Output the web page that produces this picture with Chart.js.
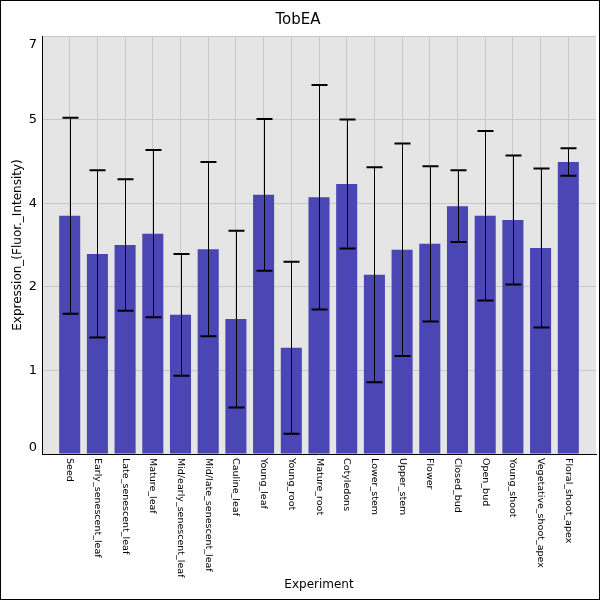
<!DOCTYPE html>
<html>
<head>
<meta charset="utf-8">
<title>TobEA</title>
<script src="https://cdn.jsdelivr.net/npm/chart.js@4.4.1/dist/chart.umd.min.js"></script>
<style>
  html, body { margin: 0; padding: 0; background: #fff; }
  #wrap { width: 600px; height: 600px; position: relative; }
</style>
</head>
<body>
<div id="wrap"><canvas id="chart"></canvas></div>
<script>
const categories = [
    'Seed', 'Early_senescent_leaf', 'Late_senescent_leaf', 'Mature_leaf',
    'Mid/early_senescent_leaf', 'Mid/late_senescent_leaf', 'Cauline_leaf',
    'Young_leaf', 'Young_root', 'Mature_root', 'Cotyledons', 'Lower_stem',
    'Upper_stem', 'Flower', 'Closed_bud', 'Open_bud', 'Young_shoot',
    'Vegetative_shoot_apex', 'Floral_shoot_apex'
];
const expression = [3.99, 3.35, 3.50, 3.69, 2.33, 3.43, 2.26, 4.34, 1.78, 4.30,
                    4.52, 3.00, 3.42, 3.52, 4.15, 3.99, 3.92, 3.45, 4.89];
const stdDev = [1.64, 1.40, 1.10, 1.40, 1.02, 1.46, 1.48, 1.27, 1.44, 1.88,
                1.08, 1.80, 1.78, 1.30, 0.60, 1.42, 1.08, 1.33, 0.23];
const yTickValues = [0, 1.4, 2.8, 4.2, 5.6, 7];
const yTickLabels = ['0', '1', '2', '4', '5', '7'];

const FONT = "'DejaVu Sans', sans-serif";

// grey plot area + outer frame
const frame = {
    id: 'frame',
    beforeDraw(chart) {
        const { ctx, chartArea: a } = chart;
        ctx.save();
        ctx.fillStyle = '#e5e5e5';
        ctx.fillRect(a.left, a.top, a.right - a.left, a.bottom - a.top);
        ctx.restore();
    },
    afterDraw(chart) {
        const { ctx, width, height } = chart;
        ctx.save();
        ctx.strokeStyle = '#000';
        ctx.lineWidth = 1;
        ctx.strokeRect(0.5, 0.5, width - 1, height - 1);
        ctx.restore();
    }
};

// error bars drawn over the bars
const errorBars = {
    id: 'errorBars',
    afterDatasetsDraw(chart) {
        const { ctx, scales: { x, y } } = chart;
        ctx.save();
        ctx.strokeStyle = '#000';
        expression.forEach((v, i) => {
            const px = Math.round(x.getPixelForValue(i)) + 0.5;
            const top = y.getPixelForValue(v + stdDev[i]);
            const bottom = y.getPixelForValue(v - stdDev[i]);
            ctx.lineWidth = 1;
            ctx.beginPath();
            ctx.moveTo(px, top);
            ctx.lineTo(px, bottom);
            ctx.stroke();
            ctx.lineWidth = 2;
            ctx.beginPath();
            ctx.moveTo(px - 8, top);
            ctx.lineTo(px + 8, top);
            ctx.moveTo(px - 8, bottom);
            ctx.lineTo(px + 8, bottom);
            ctx.stroke();
        });
        ctx.restore();
    }
};

// tick labels: x rotated clockwise, y clamped inside the plot
const tickText = {
    id: 'tickText',
    afterDraw(chart) {
        const { ctx, chartArea: a, scales: { x, y } } = chart;
        ctx.save();
        ctx.fillStyle = '#000';
        ctx.font = '9.5px ' + FONT;
        ctx.textAlign = 'left';
        ctx.textBaseline = 'middle';
        categories.forEach((name, i) => {
            ctx.save();
            ctx.translate(x.getPixelForValue(i), a.bottom + 4);
            ctx.rotate(Math.PI / 2);
            ctx.fillText(name, 0, 0);
            ctx.restore();
        });
        ctx.font = '13px ' + FONT;
        ctx.textAlign = 'right';
        yTickValues.forEach((v, i) => {
            let py = y.getPixelForValue(v);
            py = Math.min(Math.max(py, a.top + 9), a.bottom - 6);
            ctx.fillText(yTickLabels[i], a.left - 5, py);
        });
        ctx.restore();
    }
};

new Chart(document.getElementById('chart'), {
    type: 'bar',
    data: {
        datasets: [{
            data: expression.map((v, i) => ({ x: i, y: v })),
            backgroundColor: '#4a46b4',
            borderWidth: 0,
            barPercentage: 1,
            categoryPercentage: 0.76
        }]
    },
    options: {
        responsive: true,
        maintainAspectRatio: false,
        animation: false,
        layout: { padding: { top: 0, right: 4, bottom: 0, left: 0 } },
        plugins: {
            legend: { display: false },
            tooltip: { enabled: false },
            title: {
                display: true,
                text: 'TobEA',
                color: '#000',
                font: { family: FONT, size: 15, weight: 'normal' },
                padding: { top: 11, bottom: 7 }
            }
        },
        scales: {
            x: {
                type: 'linear',
                offset: false,
                min: -1,
                max: categories.length,
                afterBuildTicks: scale => {
                    scale.ticks = categories.map((c, i) => ({ value: i }));
                },
                afterFit: scale => { scale.height = 146; },
                ticks: { display: false },
                grid: { color: '#c8c8c8', lineWidth: 1, drawTicks: false, offset: false },
                border: { display: true, color: '#000', width: 1 },
                title: {
                    display: true,
                    text: 'Experiment',
                    color: '#000',
                    font: { family: FONT, size: 12 },
                    padding: { top: 0, bottom: 8 }
                }
            },
            y: {
                min: 0,
                max: 7,
                afterBuildTicks: scale => {
                    scale.ticks = yTickValues.map(v => ({ value: v }));
                },
                afterFit: scale => { scale.width = 42; },
                ticks: { display: false },
                grid: {
                    color: ctx => ctx.tick && ctx.tick.value === 0 ? 'rgba(0,0,0,0)' : '#c8c8c8',
                    lineWidth: 1,
                    drawTicks: false
                },
                border: { display: true, color: '#000', width: 1 },
                title: {
                    display: true,
                    text: 'Expression_(Fluor._Intensity)',
                    color: '#000',
                    font: { family: FONT, size: 12 },
                    padding: { top: 11, bottom: 0 }
                }
            }
        }
    },
    plugins: [frame, errorBars, tickText]
});
</script>
</body>
</html>
